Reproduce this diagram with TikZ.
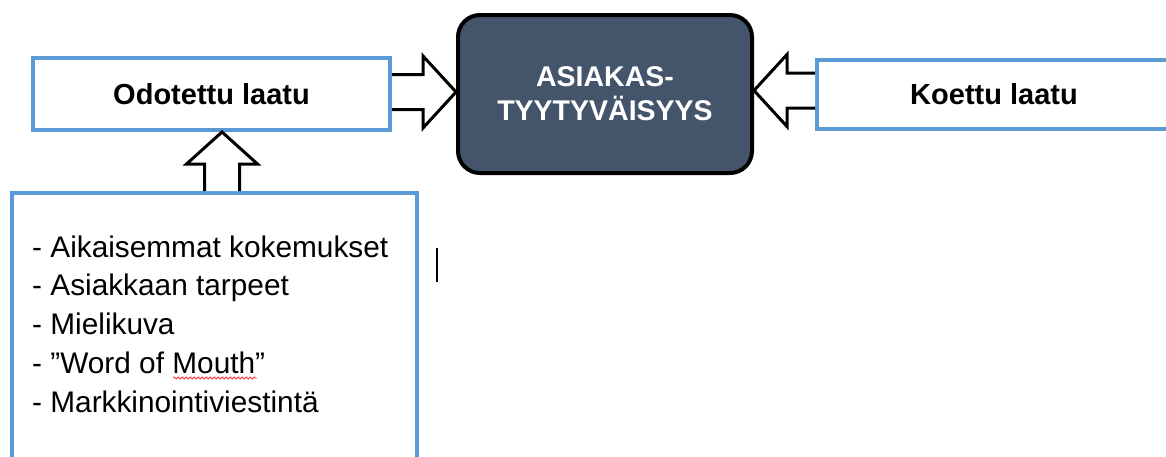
\documentclass[tikz,border=0pt]{standalone}
\usepackage{fontspec}
\setmainfont{Liberation Sans}
\usetikzlibrary{calc,decorations.pathmorphing}
\definecolor{boxblue}{HTML}{5B9BD5}
\definecolor{slate}{HTML}{44546A}
\begin{document}
\begin{tikzpicture}[x=1pt,y=-1pt,
  bluebox/.style={draw=boxblue,line width=4pt,fill=white,inner sep=0pt},
  titletext/.style={font=\fontsize{29}{34}\selectfont\bfseries},
  listtext/.style={font=\fontsize{29.8}{38.75}\selectfont,inner sep=0pt,anchor=base west},
  centerbox/.style={draw=black,line width=4pt,fill=slate,rounded corners=22pt,
    text=white,align=center,inner sep=0pt,font=\fontsize{28.5}{34}\selectfont\bfseries},
  blockarrow/.style={draw=black,line width=3pt,fill=white,line join=miter}]
\useasboundingbox (0,0) rectangle (1166,456);
\clip (0,0) rectangle (1166,456);
\fill[white] (0,0) rectangle (1166,456);

% boxes
\node[bluebox,titletext,minimum width=357pt,minimum height=72pt] (odo) at (211.5,94) {Odotettu laatu};
\node[centerbox,minimum width=294pt,minimum height=158pt] (sat) at (605,94) {ASIAKAS-\\TYYTYVÄISYYS};
\node[bluebox,titletext,minimum width=354pt,minimum height=69pt] (koe) at (994,94.5) {Koettu laatu};
\node[bluebox,minimum width=405pt,minimum height=320pt] (src) at (214.5,353) {};

% list text
\node[listtext] (l1) at (32,257) {- Aikaisemmat kokemukset};
\node[listtext] (l2) at (32,295.5) {- Asiakkaan tarpeet};
\node[listtext] (l3) at (32,334) {- Mielikuva};
\node[listtext] (l4) at (32,373) {- ”Word of Mouth”};
\node[listtext] (l5) at (32,412) {- Markkinointiviestintä};

% spell-check underline under "Mouth"
\draw[red!80!white,line width=0.8pt,decorate,decoration={snake,amplitude=1pt,segment length=4pt}]
  (173,378) -- (257,378);

% text caret
\draw[line width=2pt] (437,248) -- (437,282);

% block arrow: Odotettu laatu -> center
\coordinate (ltip) at ($(sat.west)+(0,-2)$);
\coordinate (lbase) at ($(odo.east)+(0,-2)$);
\draw[blockarrow]
  ($(lbase)+(0,-17.5)$) -- ($(ltip)+(-33,-17.5)$) -- ($(ltip)+(-33,-36)$)
  -- (ltip) -- ($(ltip)+(-33,36)$) -- ($(ltip)+(-33,17.5)$) -- ($(lbase)+(0,17.5)$);

% block arrow: Koettu laatu -> center
\coordinate (rtip) at ($(sat.east)+(0,-3.5)$);
\coordinate (rbase) at ($(koe.west)+(0,-4)$);
\draw[blockarrow]
  ($(rbase)+(0,-17.5)$) -- ($(rtip)+(33,-17.5)$) -- ($(rtip)+(33,-36)$)
  -- (rtip) -- ($(rtip)+(33,36)$) -- ($(rtip)+(33,17.5)$) -- ($(rbase)+(0,17.5)$);

% block arrow: list -> Odotettu laatu
\coordinate (uptip) at ($(odo.south)+(10.5,0)$);
\coordinate (upbase) at ($(src.north)+(7.5,0)$);
\draw[blockarrow]
  ($(upbase)+(-17.5,0)$) -- ($(uptip)+(-17.5,32)$) -- ($(uptip)+(-35.5,32)$)
  -- (uptip) -- ($(uptip)+(35.5,32)$) -- ($(uptip)+(17.5,32)$) -- ($(upbase)+(17.5,0)$);
\end{tikzpicture}
\end{document}
